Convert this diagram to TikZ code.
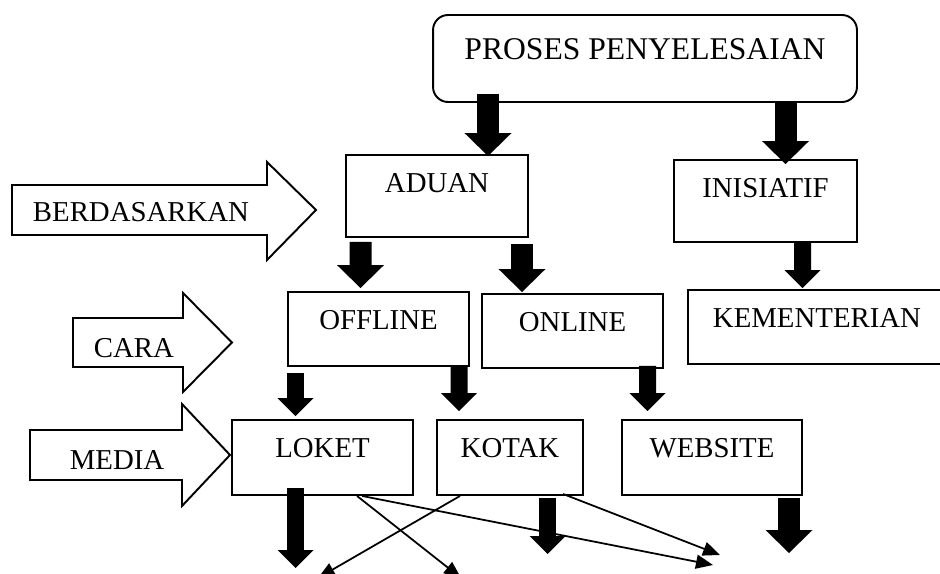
\documentclass[tikz,border=0pt]{standalone}
\usepackage{fontspec}
\setmainfont{Liberation Serif}
\usepackage{tikz}
\usetikzlibrary{arrows.meta, calc}

\begin{document}
\begin{tikzpicture}[
  x=0.02cm, y=-0.02cm,
  box/.style={draw, line width=1.1pt, inner sep=0pt, align=center, font=\fontsize{16.4}{19}\selectfont, text height=0.38cm, text depth=0.36cm},
  tag/.style={inner sep=0pt, font=\fontsize{16.4}{19}\selectfont, text height=0.38cm, text depth=0pt},
  sidearr/.style={draw, line width=1.1pt, line join=miter},
  bigarr/.style={line width=0.44cm, -{Triangle[width=0.94cm, length=0.46cm, line width=0pt]}},
  midarr/.style={line width=0.34cm, -{Triangle[width=0.72cm, length=0.36cm, line width=0pt]}},
  thinarr/.style={line width=1pt, -{Triangle[width=0.28cm, length=0.34cm]}}
]
  \useasboundingbox (0,0) rectangle (940,574);
  \clip (0,0) rectangle (940,574);

  % top
  \node[box, rounded corners=0.3cm, minimum width=8.48cm, minimum height=1.74cm, font=\fontsize{18}{21}\selectfont, text height=0.42cm, text depth=0.38cm] (proses) at (645,58.5) {PROSES PENYELESAIAN};

  % second row
  \node[box, minimum width=3.64cm, minimum height=1.64cm, text depth=0.52cm] (aduan) at (437,196) {ADUAN};
  \node[box, minimum width=3.66cm, minimum height=1.64cm, text depth=0.52cm] (inisiatif) at (765.5,201) {INISIATIF};

  % third row
  \node[box, minimum width=3.62cm, minimum height=1.48cm] (offline) at (378.5,329) {OFFLINE};
  \node[box, minimum width=3.62cm, minimum height=1.48cm] (online) at (572.5,331) {ONLINE};
  \node[box, minimum width=5.16cm, minimum height=1.48cm] (kementerian) at (817,327) {KEMENTERIAN};

  % fourth row
  \node[box, minimum width=3.62cm, minimum height=1.5cm, text depth=0.38cm] (loket) at (322.5,457.5) {LOKET};
  \node[box, minimum width=2.92cm, minimum height=1.5cm, text depth=0.38cm] (kotak) at (510,457.5) {KOTAK};
  \node[box, minimum width=3.6cm, minimum height=1.5cm, text depth=0.38cm] (website) at (712,457.5) {WEBSITE};

  % side arrows
  \draw[sidearr] (12,185) -- (267,185) -- (267,162) -- (316,210) -- (267,260) -- (267,235) -- (12,235) -- cycle;
  \node[tag] (berdasarkan) at (141,212) {BERDASARKAN};
  \draw[sidearr] (73,318) -- (183,318) -- (183,293) -- (232,342.5) -- (183,392) -- (183,367) -- (73,367) -- cycle;
  \node[tag] (cara) at (134,348) {CARA};
  \draw[sidearr] (30,430) -- (182,430) -- (182,404) -- (230,455) -- (182,506) -- (182,480) -- (30,480) -- cycle;
  \node[tag] (media) at (117,460) {MEDIA};

  % block arrows
  \draw[bigarr] ($(proses.south)+(-157,-9)$) -- ($(aduan.north)+(51,2)$);
  \draw[bigarr] ($(proses.south)+(140.5,0)$) -- ($(inisiatif.north)+(20,5)$);
  \draw[bigarr] ($(aduan.south)+(-76.5,4)$) -- ($(offline.north)+(-18,-3)$);
  \draw[bigarr] ($(aduan.south)+(85,6)$) -- ($(online.north)+(-50.5,-1)$);
  \draw[midarr] ($(inisiatif.south)+(37,0)$) -- ($(kementerian.north)+(-14.5,-1)$);
  \draw[midarr] ($(offline.south)+(-83,6)$) -- ($(loket.north)+(-27,-3)$);
  \draw[midarr] ($(offline.south)+(80.5,0)$) -- ($(kotak.north)+(-51,-8)$);
  \draw[midarr] ($(online.south)+(75,-3)$) -- ($(website.north)+(-64.5,-8)$);

  % free ends below
  \coordinate (loketout) at (295.5,568);
  \coordinate (kotakout) at (547.5,554);
  \coordinate (websiteout) at (789,553);
  \draw[midarr] ($(loket.south)+(-27,-8)$) -- (loketout);
  \draw[midarr] ($(kotak.south)+(37.5,2)$) -- (kotakout);
  \draw[bigarr] ($(website.south)+(77,2)$) -- (websiteout);

  % crossing arrows
  \coordinate (enda) at (461,578);
  \coordinate (endb) at (713,565);
  \coordinate (endc) at (318,578);
  \coordinate (endd) at (720,555);
  \draw[thinarr] ($(loket.south)+(34.5,0)$) -- (enda);
  \draw[thinarr] ($(loket.south)+(39.5,0)$) -- (endb);
  \draw[thinarr] ($(kotak.south)+(-50,0)$) -- (endc);
  \draw[thinarr] ($(kotak.south)+(53,-2)$) -- (endd);
\end{tikzpicture}
\end{document}
